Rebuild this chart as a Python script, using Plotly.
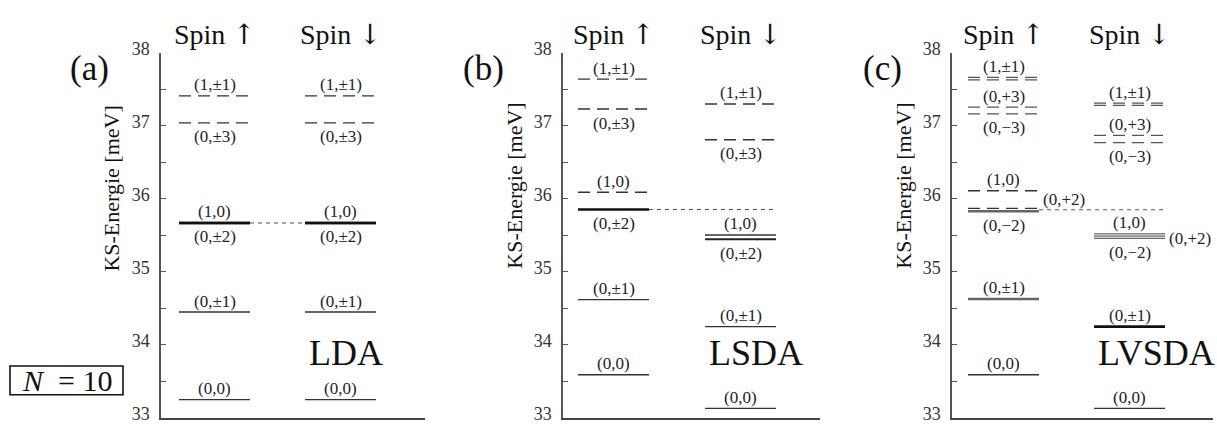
import plotly.graph_objects as go

W, H = 1217, 436
SERIF = "Liberation Serif, DejaVu Serif, serif"
ARROW = '<span style="font-family:DejaVu Serif">{}</span>'

# ---- text content -------------------------------------------------------
panel_tags = ["(a)", "(b)", "(c)"]
method_names = ["LDA", "LSDA", "LVSDA"]
spin_titles = ["Spin\u00a0" + ARROW.format("↑"), "Spin\u00a0" + ARROW.format("↓")]
axis_title = "KS-Energie [meV]"
tick_values = [33, 33.5, 34, 34.5, 35, 35.5, 36, 36.5, 37, 37.5, 38]
tick_labels = ["33", "", "34", "", "35", "", "36", "", "37", "", "38"]
particle_count = "<i>N</i>\u00a0\u00a0=\u00a010"

# ---- Kohn-Sham single-particle levels (meV) ------------------------------
# LDA: both spin channels coincide
lda_up_E = [33.25, 34.45, 35.67, 35.67, 37.04, 37.41]
lda_up_states = ["(0,0)", "(0,±1)", "(1,0)", "(0,±2)", "(0,±3)", "(1,±1)"]
lda_dn_E = [33.25, 34.45, 35.67, 35.67, 37.04, 37.41]
lda_dn_states = ["(0,0)", "(0,±1)", "(1,0)", "(0,±2)", "(0,±3)", "(1,±1)"]

# LSDA
lsda_up_E = [33.59, 34.62, 35.855, 36.09, 37.23, 37.64]
lsda_up_states = ["(0,0)", "(0,±1)", "(0,±2)", "(1,0)", "(0,±3)", "(1,±1)"]
lsda_dn_E = [33.13, 34.25, 35.445, 35.505, 36.81, 37.30]
lsda_dn_states = ["(0,0)", "(0,±1)", "(0,±2)", "(1,0)", "(0,±3)", "(1,±1)"]

# LVSDA: the ±m degeneracy is lifted (partner lines carry no own label)
lvsda_up_E = [33.59, 34.635, 34.62, 35.83, 35.87, 36.11, 37.165, 37.255, 37.665, 37.63]
lvsda_up_states = ["(0,0)", "(0,±1)", "", "(0,−2)", "(0,+2)", "(1,0)",
                   "(0,−3)", "(0,+3)", "(1,±1)", ""]
lvsda_dn_E = [33.13, 34.25, 35.46, 35.49, 35.52, 36.77, 36.87, 37.31, 37.28]
lvsda_dn_states = ["(0,0)", "(0,±1)", "(0,−2)", "(0,+2)", "(1,0)",
                   "(0,−3)", "(0,+3)", "(1,±1)", ""]

# highest occupied spin-up level, carried across as a guide line
homo_E = [35.67, 35.855, 35.85]

# ---- styling ------------------------------------------------------------
lda_up_style = ["s", "s", "S", "S", "d", "d"]
lda_up_place = ["above", "above", "above", "below", "below", "above"]
lda_dn_style = ["s", "s", "S", "S", "d", "d"]
lda_dn_place = ["above", "above", "above", "below", "below", "above"]

lsda_up_style = ["s", "s", "S", "d", "d", "d"]
lsda_up_place = ["above", "above", "below", "above", "below", "above"]
lsda_dn_style = ["s", "s", "M", "s", "d", "d"]
lsda_dn_place = ["above", "above", "below", "above", "below", "above"]

lvsda_up_style = ["s", "g", "g", "G", "d", "d", "gd", "gd", "gd", "gd"]
lvsda_up_place = ["above", "above", "", "below", "upper right", "above",
                  "below", "above", "above", ""]
lvsda_dn_style = ["s", "S", "g", "g", "g", "gd", "gd", "gd", "gd"]
lvsda_dn_place = ["above", "above", "below", "right", "above",
                  "below", "above", "above", ""]

DASH = "12px,7px"
line_styles = {
    "s": dict(color="#333333", width=1.4, dash="solid"),
    "M": dict(color="#222222", width=2.0, dash="solid"),
    "S": dict(color="#111111", width=2.6, dash="solid"),
    "d": dict(color="#333333", width=1.4, dash=DASH),
    "g": dict(color="#666666", width=1.3, dash="solid"),
    "G": dict(color="#666666", width=2.6, dash="solid"),
    "gd": dict(color="#555555", width=1.3, dash=DASH),
}

# panel frames in pixels (axis left edge, axis right edge)
frames = [(161, 425), (563, 820), (952, 1213)]
# column starts relative to the axis (spin up, spin down)
col_starts = [(18, 144), (15, 142), (16, 142)]
col_width = 71
y_top_px, y_bot_px = 40.7, 423.3
tag_pos = [(89, 57), (483, 57), (882, 57)]
title_pos = [(112, 183), (515, 180), (904, 180)]
# guide line: from end of spin-up column to start (a) or end (b, c) of spin-down column
homo_to_end = [False, True, True]

panels = [
    [(lda_up_E, lda_up_states, lda_up_style, lda_up_place),
     (lda_dn_E, lda_dn_states, lda_dn_style, lda_dn_place)],
    [(lsda_up_E, lsda_up_states, lsda_up_style, lsda_up_place),
     (lsda_dn_E, lsda_dn_states, lsda_dn_style, lsda_dn_place)],
    [(lvsda_up_E, lvsda_up_states, lvsda_up_style, lvsda_up_place),
     (lvsda_dn_E, lvsda_dn_states, lvsda_dn_style, lvsda_dn_place)],
]

fig = go.Figure()
annotations = []
label_font = dict(family=SERIF, size=17, color="#222222")

for p, columns in enumerate(panels):
    xa = "x" if p == 0 else f"x{p + 1}"
    ya = "y" if p == 0 else f"y{p + 1}"
    left, right = frames[p]

    # guide line at the topmost occupied level
    x_from = col_starts[p][0] + col_width
    x_to = col_starts[p][1] + (col_width if homo_to_end[p] else 0)
    fig.add_trace(go.Scatter(
        x=[x_from, x_to], y=[homo_E[p], homo_E[p]], mode="lines",
        line=dict(color="#555555", width=1.1, dash="4px,4px"),
        xaxis=xa, yaxis=ya, hoverinfo="skip", showlegend=False))

    for c, (energies, states, styles, places) in enumerate(columns):
        x0 = col_starts[p][c]
        x1 = x0 + col_width
        for e, st, sty, pl in zip(energies, states, styles, places):
            fig.add_trace(go.Scatter(
                x=[x0, x1], y=[e, e], mode="lines", line=line_styles[sty],
                xaxis=xa, yaxis=ya, hoverinfo="skip", showlegend=False))
            if not st:
                continue
            ann = dict(text=st, xref=xa, yref=ya, y=e, showarrow=False,
                       font=label_font, yanchor="middle")
            if pl == "above":
                ann.update(x=(x0 + x1) / 2, xanchor="center", yshift=11)
            elif pl == "below":
                ann.update(x=(x0 + x1) / 2, xanchor="center", yshift=-14)
            elif pl == "upper right":
                ann.update(x=x1 + 2, xanchor="left", yshift=9)
            else:  # right
                ann.update(x=x1 + 2, xanchor="left", yshift=-2)
            annotations.append(ann)

        # spin channel heading
        annotations.append(dict(
            text=spin_titles[c], xref=xa, yref="paper", x=(x0 + x1) / 2,
            y=1 - 21 / H, xanchor="center", yanchor="middle", showarrow=False,
            font=dict(family=SERIF, size=28, color="#111111")))

    # functional name
    annotations.append(dict(
        text=method_names[p], xref=xa, yref="paper", x=col_starts[p][1] + 2,
        y=1 - 355 / H, xanchor="left", yanchor="middle", showarrow=False,
        font=dict(family=SERIF, size=36, color="#111111")))
    # panel tag
    annotations.append(dict(
        text=panel_tags[p], xref="paper", yref="paper",
        x=tag_pos[p][0] / W, y=1 - tag_pos[p][1] / H,
        xanchor="center", yanchor="middle", showarrow=False,
        font=dict(family=SERIF, size=35, color="#111111")))
    # energy axis title
    annotations.append(dict(
        text=axis_title, xref="paper", yref="paper",
        x=title_pos[p][0] / W, y=1 - title_pos[p][1] / H, textangle=-90,
        xanchor="center", yanchor="middle", showarrow=False,
        font=dict(family=SERIF, size=22, color="#111111")))

    fig.layout[f"xaxis{'' if p == 0 else p + 1}"] = dict(
        domain=[left / W, right / W], range=[0, right - left], anchor=ya,
        showline=True, linecolor="#444444", linewidth=1.5, showgrid=False,
        zeroline=False, ticks="", showticklabels=False, fixedrange=True)
    fig.layout[f"yaxis{'' if p == 0 else p + 1}"] = dict(
        domain=[1 - y_bot_px / H, 1 - y_top_px / H], range=[33, 38],
        anchor=xa, showline=True, linecolor="#555555", linewidth=1.5,
        showgrid=False, zeroline=False, ticks="inside", ticklen=5,
        tickwidth=1.2, tickcolor="#555555", tickvals=tick_values,
        ticktext=tick_labels, ticklabelstandoff=6, ticklabelshift=-4,
        tickfont=dict(family=SERIF, size=18, color="#333333"),
        fixedrange=True)

# particle number box
annotations.append(dict(
    text=particle_count, xref="paper", yref="paper", x=66.5 / W, y=1 - 384 / H,
    xanchor="center", yanchor="middle", showarrow=False,
    font=dict(family=SERIF, size=30, color="#111111")))

fig.update_layout(
    width=W, height=H, margin=dict(l=0, r=0, t=0, b=0),
    paper_bgcolor="white", plot_bgcolor="white",
    annotations=annotations,
    shapes=[dict(type="rect", xref="paper", yref="paper",
                 x0=10 / W, x1=123 / W, y0=1 - 399 / H, y1=1 - 369 / H,
                 line=dict(color="#111111", width=1.6))],
)

fig.write_html("out.html")
